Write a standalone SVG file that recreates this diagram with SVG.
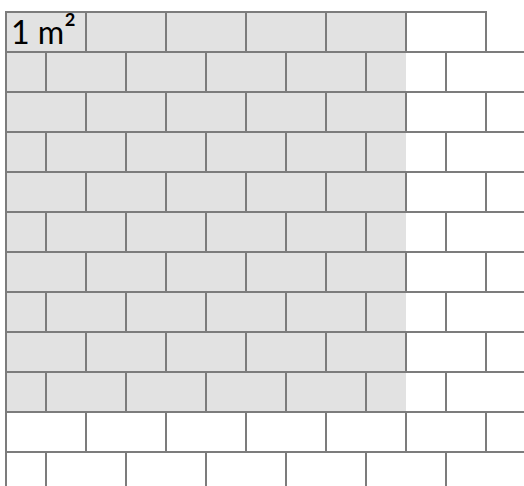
<svg xmlns="http://www.w3.org/2000/svg" xmlns:xlink="http://www.w3.org/1999/xlink" width="524" height="486" viewBox="0 0 524 486">
<defs>
<style>
.b{fill:none;stroke:#7c7c7c;stroke-width:2}
.t{font-family:Lato,"Open Sans","Liberation Sans",sans-serif;font-size:33px;fill:#000}
</style>
<rect id="brick" width="80" height="40" class="b"/>
<rect id="half" width="40" height="40" class="b"/>
<g id="rowA">
<use xlink:href="#brick" x="6"/><use xlink:href="#brick" x="86"/><use xlink:href="#brick" x="166"/><use xlink:href="#brick" x="246"/><use xlink:href="#brick" x="326"/><use xlink:href="#brick" x="406"/>
</g>
<g id="rowB">
<use xlink:href="#half" x="6"/><use xlink:href="#brick" x="46"/><use xlink:href="#brick" x="126"/><use xlink:href="#brick" x="206"/><use xlink:href="#brick" x="286"/><use xlink:href="#brick" x="366"/><use xlink:href="#brick" x="446"/>
</g>
</defs>
<rect width="524" height="486" fill="#fff"/>
<rect id="area" x="6" y="12" width="400" height="400" fill="#e2e2e2"/>
<g id="wall">
<use xlink:href="#rowA" y="12"/>
<use xlink:href="#rowB" y="52"/>
<use xlink:href="#rowA" y="92"/>
<use xlink:href="#rowB" y="132"/>
<use xlink:href="#rowA" y="172"/>
<use xlink:href="#rowB" y="212"/>
<use xlink:href="#rowA" y="252"/>
<use xlink:href="#rowB" y="292"/>
<use xlink:href="#rowA" y="332"/>
<use xlink:href="#rowB" y="372"/>
<use xlink:href="#rowA" y="412"/>
<use xlink:href="#rowB" y="452"/>
</g>
<text class="t" x="11" y="44" textLength="65" lengthAdjust="spacingAndGlyphs">1 m<tspan font-size="36" dy="-1">²</tspan></text>
</svg>
